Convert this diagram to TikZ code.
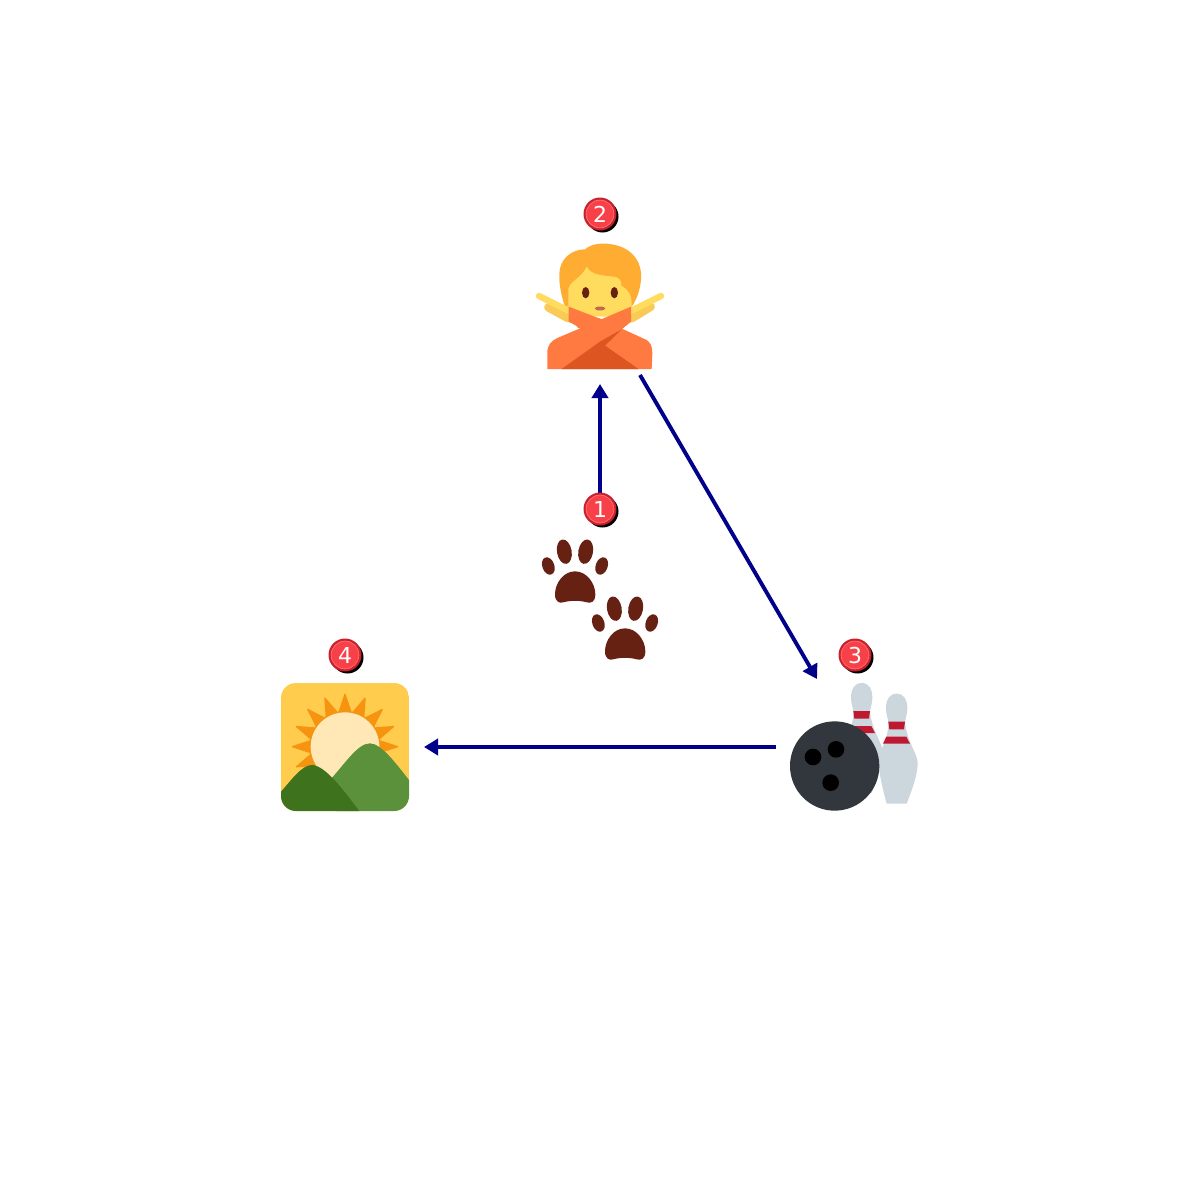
\documentclass[tikz,border=0pt]{standalone}
\usepackage{fontspec}
\setmainfont{DejaVu Sans}
\usetikzlibrary{arrows.meta}
\definecolor{flowblue}{HTML}{00008B}
\definecolor{badgered}{HTML}{F84048}
\definecolor{badgering}{HTML}{FF6A6A}
\definecolor{badgeedge}{HTML}{C8202C}
\definecolor{pawc}{HTML}{662113}
\definecolor{hairc}{HTML}{FFAC33}
\definecolor{hairdark}{HTML}{F4900C}
\definecolor{skinc}{HTML}{FFDC5D}
\definecolor{skindark}{HTML}{F9CA55}
\definecolor{sleevec}{HTML}{FF7A40}
\definecolor{sleevedark}{HTML}{DD5520}
\definecolor{mouthc}{HTML}{C1694F}
\definecolor{pinc}{HTML}{CCD6DD}
\definecolor{pinred}{HTML}{BE1931}
\definecolor{ballc}{HTML}{31373D}
\definecolor{skyc}{HTML}{FFCC4D}
\definecolor{sunc}{HTML}{FFE8B6}
\definecolor{hilllight}{HTML}{5C913B}
\definecolor{hilldark}{HTML}{3E721D}
\tikzset{
  flow/.style={draw=flowblue,line width=2.2pt,-{Triangle[length=8pt,width=9.2pt]}},
  badgeshadow/.style={fill=black,draw=none},
  badgebase/.style={fill=badgeedge,draw=none},
  badgedisc/.style={circle,minimum size=15.8pt,inner sep=0pt,fill=badgered,draw=badgering,line width=0.5pt,text=white,font=\fontsize{12.5}{13}\selectfont},
  zoomed/.style={shift={(#1)},scale=1/3}
}
\newcommand{\badge}[4]{%
  \fill[badgeshadow] (#1+2.5,#2+2.5) circle (16);
  \fill[badgebase] (#1,#2) circle (16.5);
  \node[badgedisc] (#3) at (#1,#2) {#4};}
\newcommand{\pawshape}{%
  \fill[pawc] (103,200) ellipse [x radius=22,y radius=37,rotate=10];
  \fill[pawc] (167,200) ellipse [x radius=22,y radius=37,rotate=-10];
  \fill[pawc] (55,243) ellipse [x radius=18,y radius=27,rotate=20];
  \fill[pawc] (215,243) ellipse [x radius=18,y radius=27,rotate=-20];
  \fill[pawc] (135,259) .. controls (100,259) and (75,295) .. (75,328)
    .. controls (75,350) and (88,356) .. (100,352)
    .. controls (120,346) and (150,346) .. (170,352)
    .. controls (184,356) and (196,350) .. (196,328)
    .. controls (196,295) and (170,259) .. (135,259) -- cycle;}
\newcommand{\pinshape}{%
  \fill[pinc] (380,191) .. controls (358,191) and (348,210) .. (348,235)
    .. controls (348,255) and (355,265) .. (355,280)
    .. controls (355,310) and (345,335) .. (332,365)
    .. controls (322,390) and (325,430) .. (350,521)
    -- (410,521)
    .. controls (430,470) and (443,430) .. (443,400)
    .. controls (443,370) and (415,345) .. (405,280)
    .. controls (405,265) and (412,255) .. (412,235)
    .. controls (412,210) and (402,191) .. (380,191) -- cycle;
  \fill[pinred] (355,275) -- (405,275) -- (402,298) -- (358,298) -- cycle;
  \fill[pinred] (349,320) -- (409,320) -- (420,341) -- (339,341) -- cycle;}
\begin{document}
\begin{tikzpicture}[x=0.02cm,y=-0.02cm]
\useasboundingbox (0,0) rectangle (1200,1200);
\fill[white] (0,0) rectangle (1200,1200);

% person
\begin{scope}[zoomed={520,190}]
  \fill[hairc] (135,350) .. controls (118,300) and (115,260) .. (120,235)
    .. controls (128,200) and (160,178) .. (195,178)
    .. controls (215,160) and (250,158) .. (275,163)
    .. controls (335,172) and (368,215) .. (363,270)
    .. controls (360,300) and (350,330) .. (335,350) -- cycle;
  \fill[skinc] (145,380) -- (145,300) .. controls (145,275) and (185,265) .. (200,230)
    .. controls (215,260) and (260,255) .. (290,262)
    .. controls (308,270) and (302,285) .. (305,288)
    .. controls (325,298) and (335,315) .. (335,345) -- (335,380) -- cycle;
  \draw[skindark,line width=4.8pt,line cap=round] (85,352) -- (145,385);
  \draw[skindark,line width=4.8pt,line cap=round] (392,350) -- (335,385);
  \draw[skinc,line width=3.6pt,line cap=round] (57,318) -- (145,362);
  \draw[skinc,line width=3.6pt,line cap=round] (423,318) -- (335,362);
  \fill[pawc] (197,308) ellipse [x radius=11,y radius=17];
  \fill[pawc] (283,308) ellipse [x radius=11,y radius=17];
  \fill[mouthc,rounded corners=1.5pt] (225,350) rectangle (255,361);
  % sleeves
  \fill[sleevedark] (125,537) -- (255,440) -- (305,418) -- (355,537) -- cycle;
  \fill[sleevedark] (170,410) -- (240,385) -- (250,400) -- (185,418) -- cycle;
  \fill[sleevec] (146,350) -- (240,386) -- (380,450) .. controls (392,458) and (397,470) .. (397,490)
    -- (395,537) -- (355,537) -- (255,467) -- (170,408) -- (146,395) -- cycle;
  \fill[sleevec] (82,537) -- (82,490) .. controls (82,465) and (92,455) .. (110,445)
    -- (333,350) -- (333,395) -- (305,418) -- (240,465) -- (125,537) -- cycle;
  \fill[sleevedark] (255,467) -- (305,418) -- (240,455) -- (125,537) -- (355,537) -- cycle;
\end{scope}

% paws
\begin{scope}[zoomed={530,485}]
  \pawshape
\end{scope}
\begin{scope}[zoomed={580,542}]
  \pawshape
\end{scope}

% bowling
\begin{scope}[zoomed={770,630}]
  \begin{scope}[shift={(-105,-32)}]
    \pinshape
  \end{scope}
  \pinshape
  \fill[ballc] (194,408) circle (134);
  \fill[black] (129,381) circle (25);
  \fill[black] (198,358) circle (25);
  \fill[black] (182,458) circle (25);
\end{scope}

% sunrise
\begin{scope}[zoomed={270,630}]
  \begin{scope}
    \clip[rounded corners=8.5pt] (33,159) rectangle (417,543);
    \fill[skyc] (33,159) rectangle (417,543);
    \foreach \a in {0,22.5,...,337.5}{
      \fill[hairdark!85!hairc,rounded corners=1pt] ([shift={(\a-11:105)}]225,350) -- ([shift={(\a:164)}]225,350) -- ([shift={(\a+11:105)}]225,350) -- cycle;
    }
    \fill[hairdark!85!hairc] (225,350) circle (108);
    \fill[sunc] (225,350) circle (103);
    \fill[hilllight] (170,460) .. controls (220,410) and (260,340) .. (300,340)
      .. controls (335,340) and (385,410) .. (417,450) -- (417,543) -- (200,543) -- cycle;
    \fill[hilldark] (33,485) .. controls (60,455) and (95,405) .. (125,405)
      .. controls (165,405) and (220,480) .. (268,543) -- (33,543) -- cycle;
  \end{scope}
\end{scope}

% connector ends
\coordinate (oneout) at (600,500);
\coordinate (twoin) at (600,384);
\coordinate (twoout) at (640,375);
\coordinate (threein) at (817,679);
\coordinate (threeout) at (776,747);
\coordinate (fourin) at (424,747);
\draw[flow] (oneout) -- (twoin);
\draw[flow] (twoout) -- (threein);
\draw[flow] (threeout) -- (fourin);

\badge{600}{509}{one}{1}
\badge{600}{214}{two}{2}
\badge{855}{655}{three}{3}
\badge{345}{655}{four}{4}
\end{tikzpicture}
\end{document}
